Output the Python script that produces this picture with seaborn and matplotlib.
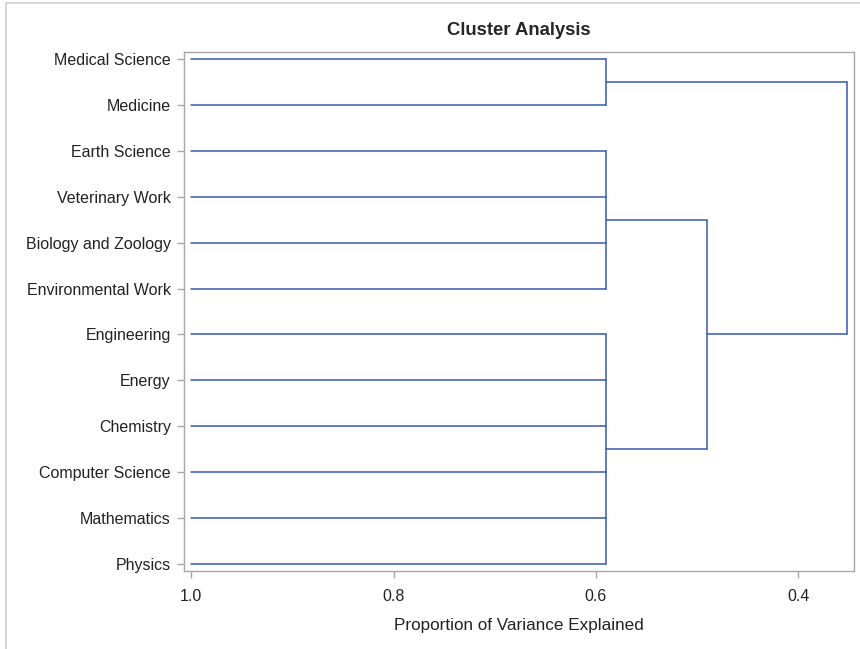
import seaborn as sns
import matplotlib.pyplot as plt
import pandas as pd

# leaf order top to bottom
leaves = ["Medical Science", "Medicine", "Earth Science", "Veterinary Work",
          "Biology and Zoology", "Environmental Work", "Engineering", "Energy",
          "Chemistry", "Computer Science", "Mathematics", "Physics"]
leaf_height = 1.0

# merges: children (leaf names or earlier merge ids) and height
merge_children = [
    ["Medical Science", "Medicine"],
    ["Earth Science", "Veterinary Work", "Biology and Zoology", "Environmental Work"],
    ["Engineering", "Energy", "Chemistry", "Computer Science", "Mathematics", "Physics"],
    [1, 2],
    [0, 3],
]
merge_heights = [0.590, 0.590, 0.590, 0.490, 0.352]

x_ticks = [1.0, 0.8, 0.6, 0.4]

# build line segments of the dendrogram
node_pos = {}
node_h = {}
for i, name in enumerate(leaves):
    node_pos[name] = i
    node_h[name] = leaf_height

rows = []
seg = 0
for m, (kids, h) in enumerate(zip(merge_children, merge_heights)):
    ys = [node_pos[k] for k in kids]
    for k in kids:
        rows.append((seg, node_h[k], node_pos[k]))
        rows.append((seg, h, node_pos[k]))
        seg += 1
    rows.append((seg, h, min(ys)))
    rows.append((seg, h, max(ys)))
    seg += 1
    node_pos[m] = (min(ys) + max(ys)) / 2
    node_h[m] = h

df = pd.DataFrame(rows, columns=["seg", "x", "y"])

sns.set_style("white")
plt.rcParams['font.family'] = ['Liberation Sans', 'DejaVu Sans']

fig = plt.figure(figsize=(8.6, 6.49), dpi=100)
ax = fig.add_axes([184 / 860, 78 / 649, 670 / 860, 519 / 649])

sns.lineplot(data=df, x="x", y="y", units="seg", estimator=None, sort=False,
             color="#3658b0", linewidth=1.1, ax=ax, legend=False)

ax.set_xlim(1.007, 0.345)
ax.set_ylim(len(leaves) - 1 + 0.15, -0.15)
ax.set_yticks(range(len(leaves)))
ax.set_yticklabels(leaves)
ax.set_xticks(x_ticks)
ax.set_xticklabels([f"{t:.1f}" for t in x_ticks])

for s in ax.spines.values():
    s.set_color("#a8a8a8")
    s.set_linewidth(1.0)
ax.tick_params(axis="both", direction="out", length=5, width=1.0,
               color="#a8a8a8", labelsize=11.5, labelcolor="#222222")
ax.tick_params(axis="y", pad=4.5)
ax.tick_params(axis="x", pad=8)
ax.tick_params(left=True, bottom=True)

ax.set_xlabel("Proportion of Variance Explained", fontsize=12.3, color="#222222", labelpad=10)
ax.set_ylabel("")
ax.set_title("Cluster Analysis", fontsize=13.3, fontweight="bold", pad=12)

# light outer frame like the original image
fig.add_artist(plt.Line2D([6 / 860, 6 / 860], [0, 1 - 3 / 649], transform=fig.transFigure,
                          color="#d0d0d0", linewidth=1.2))
fig.add_artist(plt.Line2D([6 / 860, 1], [1 - 3 / 649, 1 - 3 / 649], transform=fig.transFigure,
                          color="#d0d0d0", linewidth=1.2))

fig.savefig("out.png", dpi=100)
